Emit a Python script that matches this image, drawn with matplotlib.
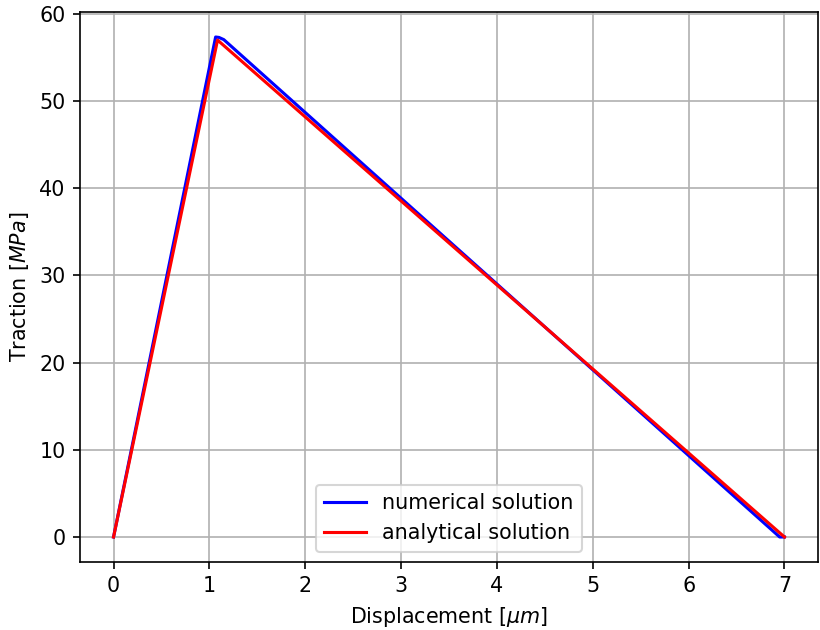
import matplotlib
matplotlib.use("Agg")
import matplotlib.pyplot as plt

# Traction-separation law: numerical vs analytical (bilinear cohesive law)
num_disp = [0.0, 1.065, 1.10, 1.15, 6.95, 7.0]
num_trac = [0.0, 57.35, 57.3, 57.05, 0.0, 0.0]

ana_disp = [0.0, 1.085, 7.0]
ana_trac = [0.0, 57.0, 0.0]

DPI = 148.8
fig = plt.figure(figsize=(820 / DPI, 630 / DPI), dpi=DPI)
ax = fig.add_axes([80 / 820, 1 - 562 / 630, 738 / 820, 550 / 630])

ax.plot(num_disp, num_trac, color="blue", label="numerical solution")
ax.plot(ana_disp, ana_trac, color="red", label="analytical solution")

ax.set_xlabel(r"Displacement [$\mu m$]")
ax.set_ylabel(r"Traction [$MPa$]")
ax.grid(True)
ax.legend(loc="lower center")

fig.savefig("out.png", dpi=DPI)
